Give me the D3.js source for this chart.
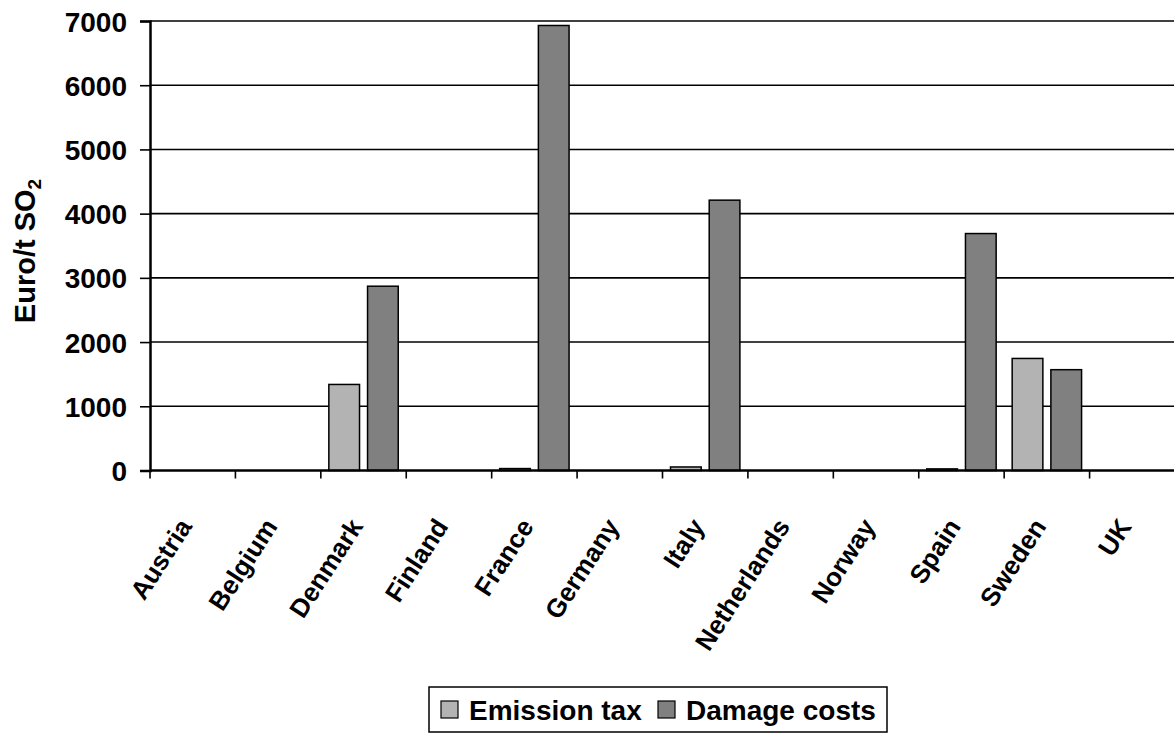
<!DOCTYPE html>
<html>
<head>
<meta charset="utf-8">
<script src="https://cdn.jsdelivr.net/npm/d3@7"></script>
<style>
  html, body { margin: 0; padding: 0; background: #fff; }
  svg text { font-family: "Liberation Sans", Arial, sans-serif; font-weight: bold; fill: #000; }
</style>
</head>
<body>
<svg id="chart" width="1174" height="734"></svg>
<script>
// SO2: emission tax levels versus estimated damage costs, Euro per tonne
const countries = ["Austria", "Belgium", "Denmark", "Finland", "France", "Germany",
                   "Italy", "Netherlands", "Norway", "Spain", "Sweden", "UK"];
const emissionTax = [0, 0, 1340, 0, 30, 0, 55, 0, 0, 25, 1745, 0];
const damageCosts = [0, 0, 2870, 0, 6930, 0, 4210, 0, 0, 3690, 1570, 0];
const seriesNames = ["Emission tax", "Damage costs"];
const seriesColors = ["#b3b3b3", "#808080"];
const yTicks = [0, 1000, 2000, 3000, 4000, 5000, 6000, 7000];

const svg = d3.select("#chart");
const plotLeft = 150, plotRight = 1175, plotTop = 21, plotBottom = 470.5;

const x = d3.scaleBand().domain(countries).range([plotLeft, plotRight]).padding(0);
const inner = d3.scaleBand().domain(seriesNames).range([0, x.bandwidth()])
  .paddingInner(0.207).paddingOuter(0.207);
const y = d3.scaleLinear().domain([0, 7000]).range([plotBottom, plotTop]);

// horizontal gridlines
svg.append("g").selectAll("line").data(yTicks.filter(d => d > 0)).join("line")
  .attr("x1", plotLeft).attr("x2", plotRight)
  .attr("y1", d => y(d)).attr("y2", d => y(d))
  .attr("stroke", "#000").attr("stroke-width", 1.6);

// bars
const rows = countries.map((c, i) => ({ c, vals: [emissionTax[i], damageCosts[i]] }));
const groups = svg.append("g").selectAll("g").data(rows).join("g")
  .attr("transform", d => `translate(${x(d.c)},0)`);
groups.selectAll("rect")
  .data(d => d.vals.map((v, k) => ({ v, k })).filter(e => e.v > 0))
  .join("rect")
  .attr("x", e => inner(seriesNames[e.k]))
  .attr("width", inner.bandwidth())
  .attr("y", e => y(e.v))
  .attr("height", e => y(0) - y(e.v))
  .attr("fill", e => seriesColors[e.k])
  .attr("stroke", "#000").attr("stroke-width", 1.5);

// y axis
const yAxis = d3.axisLeft(y).tickValues(yTicks).tickSize(10).tickPadding(13).tickFormat(d3.format("d"));
const gy = svg.append("g").attr("transform", `translate(${plotLeft},0)`).call(yAxis);
gy.select(".domain").attr("stroke", "#000").attr("stroke-width", 2.5);
gy.selectAll(".tick line").attr("stroke", "#000").attr("stroke-width", 1.6);
gy.selectAll(".tick text").style("font-size", "28px").style("font-family", "Liberation Sans, Arial, sans-serif")
  .style("font-weight", "bold").attr("dy", "0.36em");

// x axis: ticks on category boundaries
const gx = svg.append("g").attr("transform", `translate(0,${plotBottom})`);
gx.append("line").attr("x1", plotLeft).attr("x2", plotRight).attr("stroke", "#000").attr("stroke-width", 2.5);
gx.selectAll("line.tk").data(countries).join("line").attr("class", "tk")
  .attr("x1", d => x(d)).attr("x2", d => x(d)).attr("y1", 0).attr("y2", 8)
  .attr("stroke", "#000").attr("stroke-width", 1.6);
gx.selectAll("text").data(countries).join("text")
  .attr("transform", d => `translate(${x(d) + x.bandwidth() / 2 - 15},${46}) rotate(-57)`)
  .attr("text-anchor", "end")
  .attr("dy", "0.7em")
  .style("font-size", "26px")
  .text(d => d);

// y axis title
const yt = svg.append("text")
  .attr("transform", `translate(35,${251}) rotate(-90)`)
  .attr("text-anchor", "middle")
  .style("font-size", "29px");
yt.append("tspan").text("Euro/t SO");
yt.append("tspan").attr("dy", "0.3em").style("font-size", "19px").text("2");

// legend
const lg = svg.append("g");
lg.append("rect").attr("x", 429).attr("y", 687).attr("width", 458).attr("height", 45)
  .attr("fill", "#fff").attr("stroke", "#000").attr("stroke-width", 1.5);
const legendX = [441, 658];
seriesNames.forEach((name, k) => {
  lg.append("rect").attr("x", legendX[k]).attr("y", 701).attr("width", 17).attr("height", 17)
    .attr("fill", seriesColors[k]).attr("stroke", "#000").attr("stroke-width", 1.2);
  lg.append("text").attr("x", legendX[k] + 28).attr("y", 719.5)
    .style("font-size", "28px").text(name);
});
</script>
</body>
</html>
